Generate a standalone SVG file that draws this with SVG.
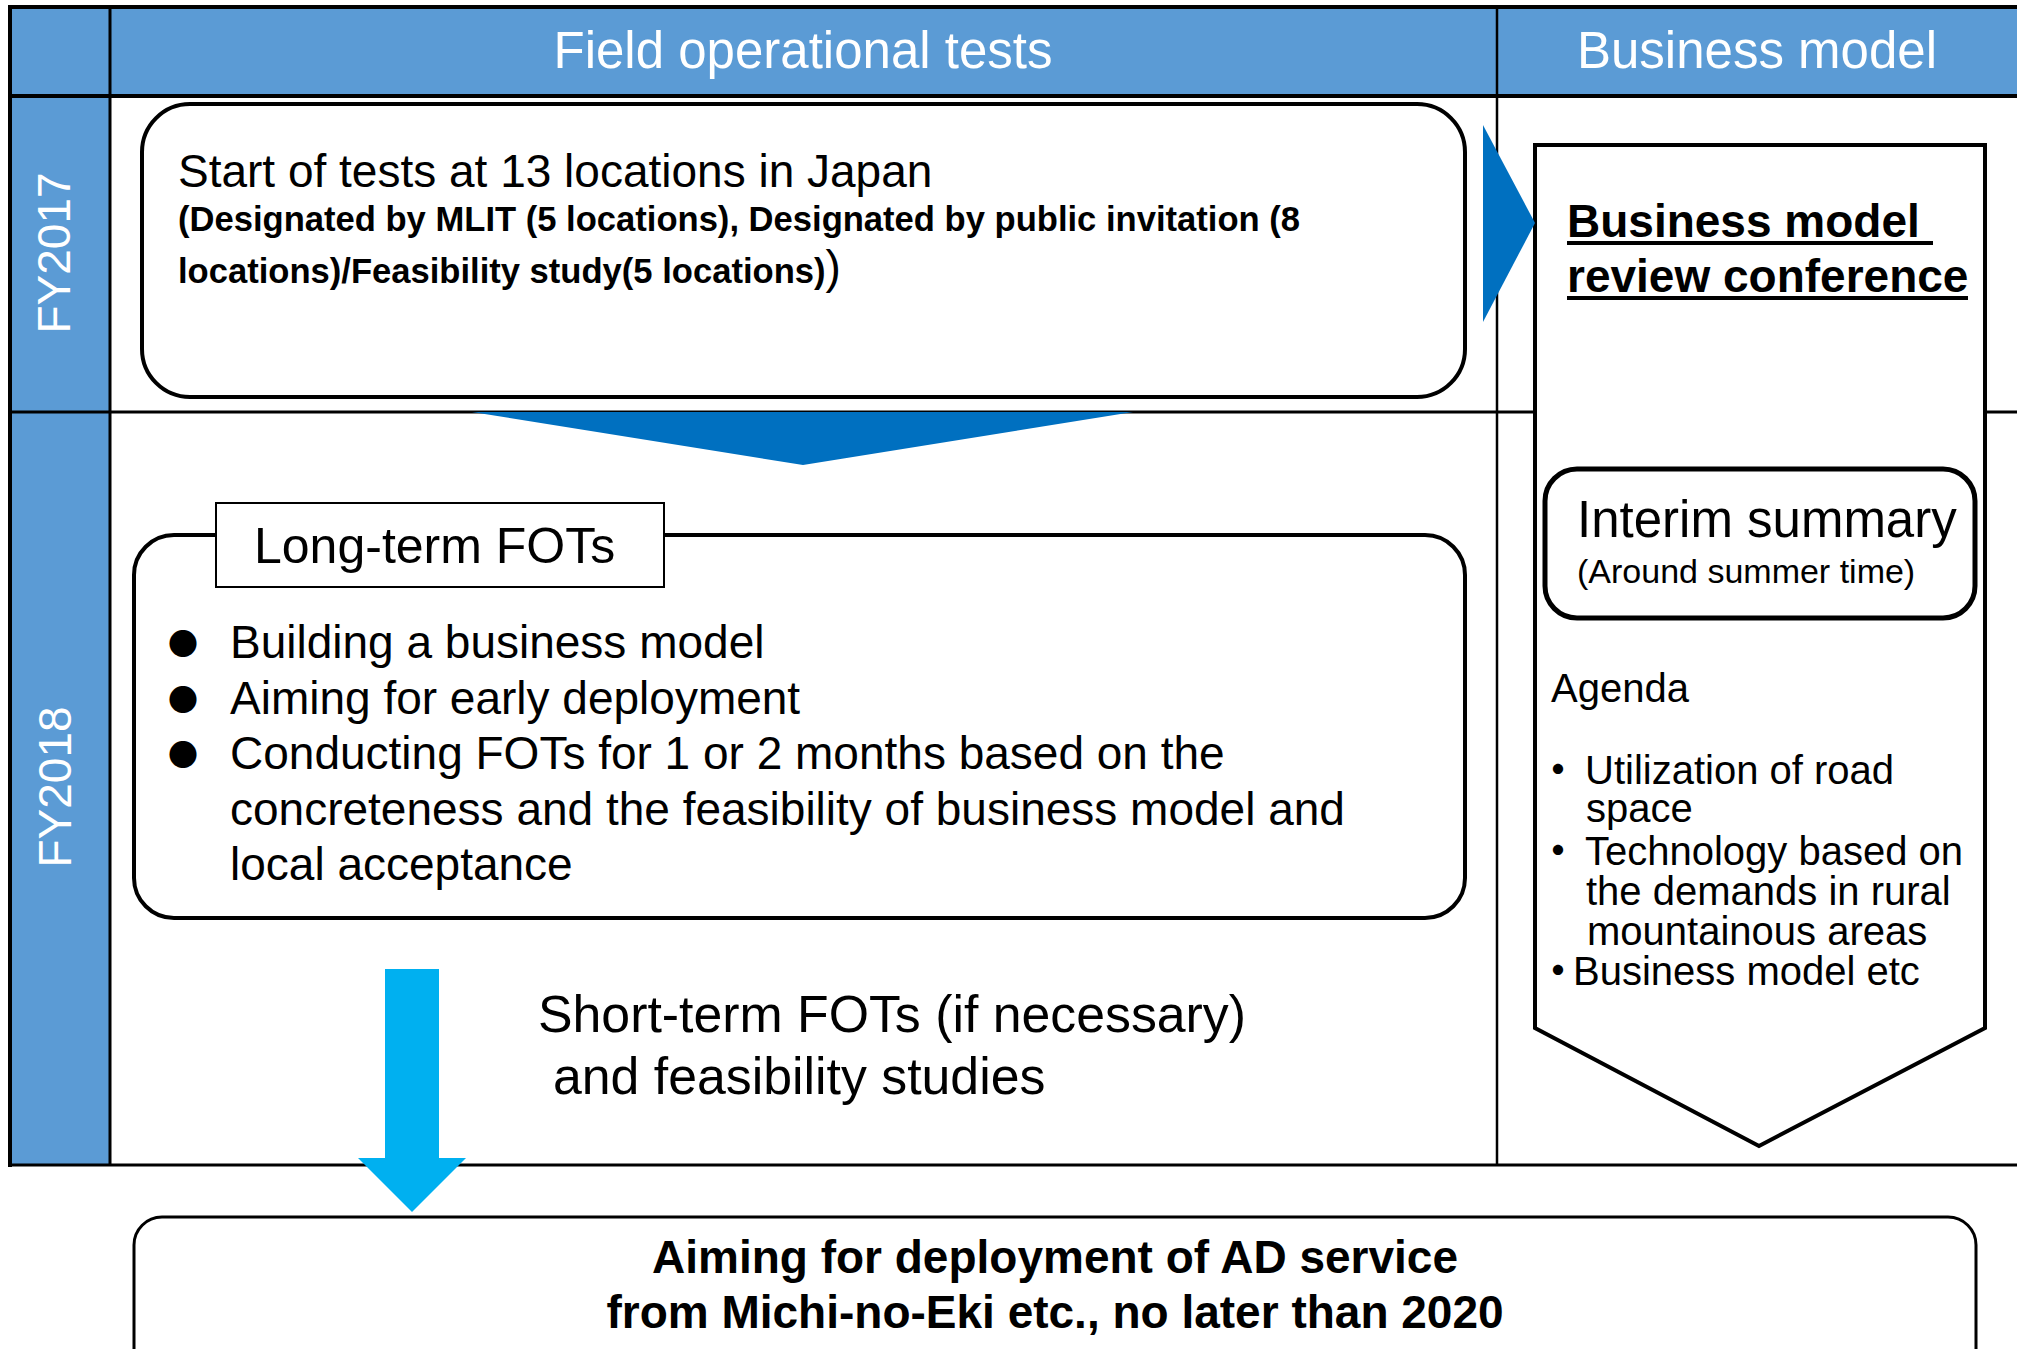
<svg xmlns="http://www.w3.org/2000/svg" width="2017" height="1349" viewBox="0 0 2017 1349">
<style>
.t{font-family:"Liberation Sans",Arial,sans-serif;fill:#000}
.b{font-weight:bold}
.w{fill:#fff}
.mid{text-anchor:middle}
.ln{stroke:#000;fill:none}
.box{fill:#fff;stroke:#000}
.cjk{font-family:"Noto Sans CJK JP",sans-serif;fill:#000}
</style>
<rect width="2017" height="1349" fill="#fff"/>
<g id="table">
<rect x="10" y="7" width="2007" height="89" fill="#5B9BD5"/>
<rect x="10" y="96" width="100" height="1069" fill="#5B9BD5"/>
<line class="ln" x1="8" y1="7" x2="2017" y2="7" stroke-width="4"/>
<line class="ln" x1="10" y1="5" x2="10" y2="1167" stroke-width="4"/>
<line class="ln" x1="110" y1="7" x2="110" y2="1165" stroke-width="3"/>
<line class="ln" x1="10" y1="96" x2="2017" y2="96" stroke-width="4"/>
<line class="ln" x1="10" y1="412" x2="2017" y2="412" stroke-width="3"/>
<line class="ln" x1="1497" y1="7" x2="1497" y2="1165" stroke-width="2.5"/>
<line class="ln" x1="10" y1="1165" x2="2017" y2="1165" stroke-width="3"/>
</g>
<g id="header-field"><text class="t w mid" x="803" y="68" font-size="51">Field operational tests</text></g>
<g id="header-business"><text class="t w mid" x="1757" y="68" font-size="51">Business model</text></g>
<g id="year-fy2017"><text class="t w mid" font-size="46" transform="translate(70,253) rotate(-90)">FY2017</text></g>
<g id="year-fy2018"><text class="t w mid" font-size="46" transform="translate(71,787) rotate(-90)">FY2018</text></g>

<g id="node-fy2017-tests">
<rect class="box" x="142" y="104" width="1323" height="293" rx="48" ry="48" stroke-width="4"/>
<text class="t" x="178" y="187" font-size="46">Start of tests at 13 locations in Japan</text>
<text class="t b" x="178" y="231" font-size="34.6">(Designated by MLIT (5 locations), Designated by public invitation (8</text>
<text class="t" x="178" y="283"><tspan class="b" font-size="34.6">locations)/Feasibility study(5 locations)</tspan><tspan font-size="46">)</tspan></text>
</g>

<g id="node-business-model">
<polygon class="box" points="1535,145 1985,145 1985,1028 1759,1146 1535,1028" stroke-width="4"/>
<text class="t b" x="1567" y="237" font-size="46">Business model</text>
<text class="t b" x="1567" y="292" font-size="46">review conference</text>
<rect x="1567" y="241" width="366" height="4" fill="#000"/>
<rect x="1567" y="296" width="401" height="4" fill="#000"/>
</g>

<g id="node-interim-summary">
<rect class="box" x="1545" y="469" width="430" height="149" rx="32" ry="32" stroke-width="5"/>
<text class="t" x="1577" y="537" font-size="51">Interim summary</text>
<text class="t" x="1577" y="583" font-size="34">(Around summer time)</text>
</g>

<g id="node-agenda">
<text class="t" x="1551" y="702" font-size="40">Agenda</text>
<text class="cjk b" x="1538" y="784" font-size="40">・</text>
<text class="t" x="1585" y="784" font-size="40">Utilization of road</text>
<text class="t" x="1586" y="822" font-size="40">space</text>
<text class="cjk b" x="1538" y="865" font-size="40">・</text>
<text class="t" x="1585" y="865" font-size="40">Technology based on</text>
<text class="t" x="1586" y="905" font-size="40">the demands in rural</text>
<text class="t" x="1587" y="945" font-size="40">mountainous areas</text>
<text class="cjk b" x="1538" y="985" font-size="40">・</text>
<text class="t" x="1573" y="985" font-size="40">Business model etc</text>
</g>

<g id="node-long-term">
<rect class="box" x="134" y="535" width="1331" height="383" rx="40" ry="40" stroke-width="4"/>
<rect class="box" x="216" y="503" width="448" height="84" stroke-width="2"/>
<text class="t" x="254" y="563" font-size="50">Long-term FOTs</text>
<text class="cjk" x="168" y="655" font-size="30">●</text>
<text class="cjk" x="168" y="711" font-size="30">●</text>
<text class="cjk" x="168" y="766" font-size="30">●</text>
<text class="t" x="230" y="658" font-size="46">Building a business model</text>
<text class="t" x="230" y="714" font-size="46">Aiming for early deployment</text>
<text class="t" x="230" y="769" font-size="46">Conducting FOTs for 1 or 2 months based on the</text>
<text class="t" x="230" y="825" font-size="46">concreteness and the feasibility of business model and</text>
<text class="t" x="230" y="880" font-size="46">local acceptance</text>
</g>

<g id="node-short-term">
<text class="t" x="538" y="1032" font-size="51.8">Short-term FOTs (if necessary)</text>
<text class="t" x="553" y="1094" font-size="51.8">and feasibility studies</text>
</g>

<g id="node-goal">
<rect class="box" x="134" y="1217" width="1842" height="200" rx="28" ry="28" stroke-width="3"/>
<text class="t b mid" x="1055" y="1273" font-size="46">Aiming for deployment of AD service</text>
<text class="t b mid" x="1055" y="1328" font-size="46">from Michi-no-Eki etc., no later than 2020</text>
</g>

<g id="connectors">
<polygon points="1483,125 1535,223 1483,322" fill="#0070C0"/>
<polygon points="472,412 1133,412 803,465" fill="#0070C0"/>
<polygon points="385,969 439,969 439,1158 466,1158 412,1212 358,1158 385,1158" fill="#00B0F0"/>
</g>
</svg>
